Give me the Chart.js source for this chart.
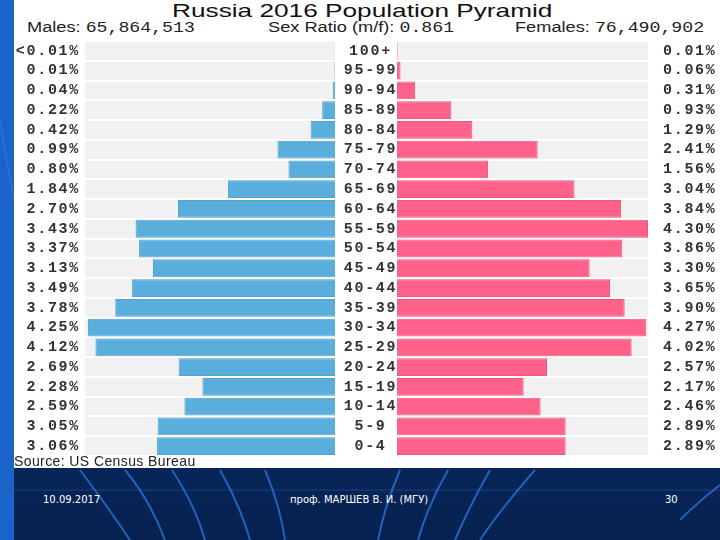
<!DOCTYPE html>
<html>
<head>
<meta charset="utf-8">
<script src="https://cdn.jsdelivr.net/npm/chart.js@4"></script>
<style>
  body { margin: 0; width: 720px; height: 540px; overflow: hidden; position: relative;
         background: linear-gradient(180deg, #0c3f8a 0%, #0a2f6c 60%, #06214f 100%); font-family: "Liberation Sans", Arial, sans-serif; }
  #bg { position: absolute; left: 0; top: 0; }
  #panel { position: absolute; left: 14px; top: 0; width: 706px; height: 468px; background: #fff; }
  .txt { position: absolute; white-space: nowrap; }
  .mono { font-family: "Liberation Mono", monospace; }
  #title { left: 172px; top: 0; font-size: 19px; transform-origin: 0 0; transform: scaleX(1.38); color: #111; }
  .sub { top: 19px; font-size: 14px; line-height: 16px; color: #222; transform-origin: 0 0; transform: scaleX(1.3); }
  #source { left: 14px; top: 453px; font-size: 14px; letter-spacing: 0.4px; color: #222; }
  .foot { color: #fff; font-family: "DejaVu Sans", Verdana, sans-serif; font-size: 10px; top: 494px; }
  canvas.c { position: absolute; }
</style>
</head>
<body>
<svg id="bg" width="720" height="540">
  <rect x="0" y="0" width="14" height="540" fill="#1a63c8"/>
  <line x1="0" y1="490" x2="720" y2="490" stroke="#2a5fae" stroke-width="1" opacity="0.5"/>
  <g fill="none" stroke="#2a72d6" stroke-width="2" opacity="0.8">
    <path d="M80 470 Q110 510 130 540"/>
    <path d="M125 470 Q150 500 165 540"/>
    <path d="M172 470 Q195 505 205 540"/>
    <path d="M220 470 Q240 505 250 540"/>
    <path d="M265 470 Q280 505 285 540"/>
    <path d="M400 470 Q385 505 378 540"/>
    <path d="M448 470 Q428 505 418 540"/>
    <path d="M490 470 Q470 505 455 540"/>
    <path d="M535 470 Q500 510 480 540"/>
    <path d="M680 520 Q700 500 720 485"/>
    <path d="M0 120 Q8 170 14 200"/>
  </g>
</svg>
<div id="panel"></div>
<div class="txt" id="title">Russia 2016 Population Pyramid</div>
<div class="txt sub" style="left:27px">Males: <span class="mono">65,864,513</span></div>
<div class="txt sub" style="left:268px">Sex Ratio (m/f): <span class="mono">0.861</span></div>
<div class="txt sub" style="left:515px">Females: <span class="mono">76,490,902</span></div>
<canvas class="c" id="males" width="321" height="415" style="left:14px;top:41px;width:321px;height:415px"></canvas>
<canvas class="c" id="females" width="385" height="415" style="left:335px;top:41px;width:385px;height:415px"></canvas>
<div class="txt" id="source">Source: US Census Bureau</div>
<div class="txt foot" style="left:43px">10.09.2017</div>
<div class="txt foot" style="left:290px">проф. МАРШЕВ В. И. (МГУ)</div>
<div class="txt foot" style="left:665px">30</div>
<script>
const ages = ['100+', '95-99', '90-94', '85-89', '80-84', '75-79', '70-74', '65-69', '60-64', '55-59',
  '50-54', '45-49', '40-44', '35-39', '30-34', '25-29', '20-24', '15-19', '10-14', '5-9', '0-4']
const males = [0.004, 0.01, 0.04, 0.22, 0.42, 0.99, 0.80, 1.84, 2.70, 3.43,
  3.37, 3.13, 3.49, 3.78, 4.25, 4.12, 2.69, 2.28, 2.59, 3.05, 3.06]
const females = [0.01, 0.06, 0.31, 0.93, 1.29, 2.41, 1.56, 3.04, 3.84, 4.30,
  3.86, 3.30, 3.65, 3.90, 4.27, 4.02, 2.57, 2.17, 2.46, 2.89, 2.89]
const maleLabels = ['<0.01%', '0.01%', '0.04%', '0.22%', '0.42%', '0.99%', '0.80%', '1.84%', '2.70%', '3.43%',
  '3.37%', '3.13%', '3.49%', '3.78%', '4.25%', '4.12%', '2.69%', '2.28%', '2.59%', '3.05%', '3.06%']
const femaleLabels = ['0.01%', '0.06%', '0.31%', '0.93%', '1.29%', '2.41%', '1.56%', '3.04%', '3.84%', '4.30%',
  '3.86%', '3.30%', '3.65%', '3.90%', '4.27%', '4.02%', '2.57%', '2.17%', '2.46%', '2.89%', '2.89%']

const tickFont = { family: 'Liberation Mono', size: 15, weight: 'bold' }
const tickColor = '#333'

// gray background behind the bar area + wider letter spacing for the labels
const areaBg = {
  id: 'areaBg',
  beforeInit(chart) {
    chart.ctx.letterSpacing = '1.7px'
  },
  beforeDraw(chart) {
    const a = chart.chartArea
    chart.ctx.letterSpacing = '1.7px'
    chart.ctx.save()
    chart.ctx.fillStyle = '#f1f1f1'
    chart.ctx.fillRect(a.left, a.top, a.right - a.left, a.bottom - a.top)
    chart.ctx.restore()
  }
}

// fixed axis width and no extra room above/below for labels
function fixWidth(w) {
  return scale => {
    scale.width = w
    scale.paddingTop = 0
    scale.paddingBottom = 0
  }
}

const gridY = { color: '#ffffff', lineWidth: 2, offset: true, drawTicks: false }

new Chart(document.getElementById('males'), {
  type: 'bar',
  data: {
    labels: maleLabels,
    datasets: [{ data: males, backgroundColor: '#5aaedb', borderColor: '#4ea3d2', borderWidth: 1,
      barPercentage: 1, categoryPercentage: 0.9 }]
  },
  options: {
    indexAxis: 'y',
    responsive: false,
    animation: false,
    layout: { padding: 0 },
    plugins: { legend: { display: false }, tooltip: { enabled: false } },
    scales: {
      x: { reverse: true, min: 0, max: 4.3, display: false },
      y: { position: 'left', grid: gridY, border: { display: false }, afterFit: fixWidth(71),
        ticks: { font: tickFont, color: tickColor, padding: 5, autoSkip: false } }
    }
  },
  plugins: [areaBg]
})

new Chart(document.getElementById('females'), {
  type: 'bar',
  data: {
    labels: ages,
    datasets: [{ data: females, backgroundColor: '#fe6189', borderColor: '#ee5580', borderWidth: 1,
      barPercentage: 1, categoryPercentage: 0.9 }]
  },
  options: {
    indexAxis: 'y',
    responsive: false,
    animation: false,
    layout: { padding: 0 },
    plugins: { legend: { display: false }, tooltip: { enabled: false } },
    scales: {
      x: { min: 0, max: 4.3, display: false },
      y: { position: 'left', grid: gridY, border: { display: false }, afterFit: fixWidth(62),
        ticks: { font: tickFont, color: tickColor, crossAlign: 'center', padding: 4, autoSkip: false } },
      y2: { type: 'category', labels: femaleLabels, position: 'right', grid: { display: false },
        border: { display: false }, afterFit: fixWidth(72),
        ticks: { font: tickFont, color: tickColor, padding: 7, autoSkip: false } }
    }
  },
  plugins: [areaBg]
})
</script>
</body>
</html>
